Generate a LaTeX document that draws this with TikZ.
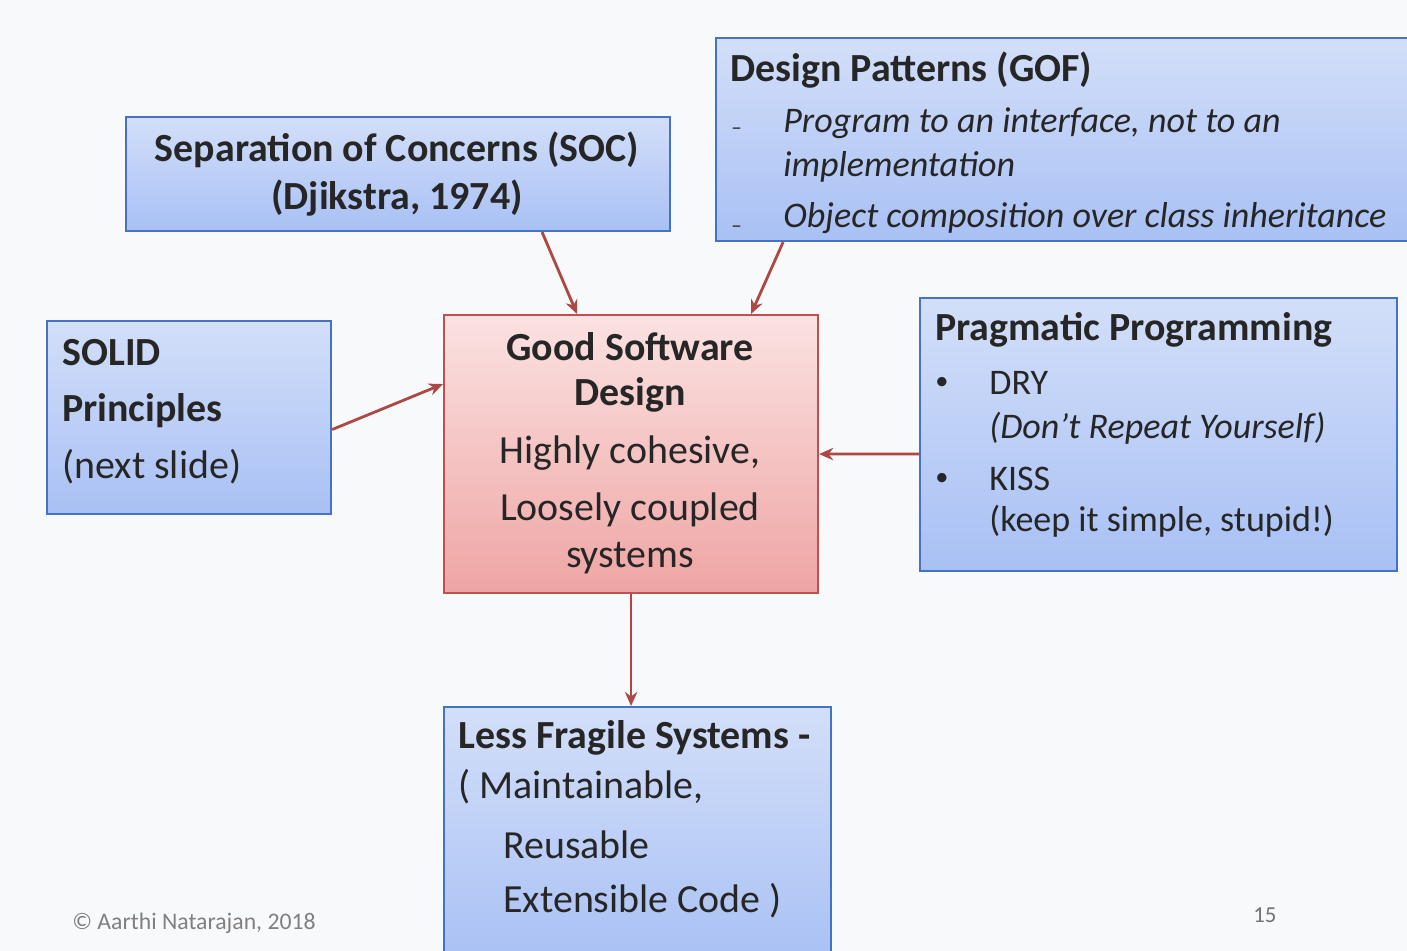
\documentclass[tikz,border=0pt]{standalone}
\usepackage{fontspec}
\setmainfont{Carlito}
\usetikzlibrary{arrows.meta,positioning,calc}
\definecolor{bluebd}{HTML}{4472C4}
\definecolor{bluetop}{HTML}{D3DFF9}
\definecolor{bluebot}{HTML}{A8C0F4}
\definecolor{redbd}{HTML}{C0504D}
\definecolor{redtop}{HTML}{FBE2E2}
\definecolor{redbot}{HTML}{EEA5A4}
\definecolor{txt}{HTML}{262626}
\definecolor{pagebg}{HTML}{F8F9FB}
\tikzset{
  bluebox/.style={draw=bluebd,line width=1.2pt,top color=bluetop,bottom color=bluebot,anchor=north west,inner sep=0pt},
  redbox/.style={draw=redbd,line width=1.2pt,top color=redtop,bottom color=redbot,anchor=north west,inner sep=0pt},
  ln/.style={anchor=west,inner sep=0pt,text=txt,font=\fontsize{20.5}{24}\selectfont},
  big/.style={ln,font=\fontsize{22.7}{26}\selectfont},
  hd/.style={ln,font=\fontsize{22.7}{26}\selectfont\bfseries},
  ctr/.style={big,anchor=center},
  link/.style={draw=redbd!90!black,line width=1.6pt,-{Stealth[length=8pt,width=7pt]}}
}
\begin{document}
\begin{tikzpicture}
\useasboundingbox (0,0) rectangle (28.14,19.02);
\fill[pagebg] (0,0) rectangle (28.14,19.02);
%
\node[bluebox,minimum width=10.88cm,minimum height=2.28cm] (soc) at (2.5,16.7) {};
\node[bluebox,minimum width=13.84cm,minimum height=4.06cm] (gof) at (14.3,18.28) {};
\node[bluebox,minimum width=5.68cm,minimum height=3.86cm] (solid) at (0.92,12.62) {};
\node[redbox,minimum width=7.48cm,minimum height=5.56cm] (good) at (8.86,12.74) {};
\node[bluebox,minimum width=9.54cm,minimum height=5.46cm] (prag) at (18.38,13.08) {};
\node[bluebox,minimum width=7.74cm,minimum height=5.2cm] (fragile) at (8.86,4.9) {};
%
\node[hd,anchor=center] (soc1) at (7.94,16.02) {Separation of Concerns (SOC)};
\node[hd,anchor=center] (soc2) at (7.94,15.06) {(Djikstra, 1974)};
%
\node[hd] (gof1) at (14.6,17.62) {Design Patterns (GOF)};
\node[ln] (gofd1) at (14.62,16.4) {\fontsize{12}{14}\selectfont –};
\node[ln] (gof2) at (15.66,16.56) {\itshape Program to an interface, not to an};
\node[ln] (gof3) at (15.66,15.68) {\itshape implementation};
\node[ln] (gofd2) at (14.62,14.44) {\fontsize{12}{14}\selectfont –};
\node[ln] (gof4) at (15.66,14.66) {\itshape Object composition over class inheritance};
%
\node[hd] (solid1) at (1.24,11.96) {SOLID};
\node[hd] (solid2) at (1.24,10.8) {Principles};
\node[big] (solid3) at (1.24,9.68) {(next slide)};
%
\node[hd,anchor=center] (good1) at (12.6,12.08) {Good Software};
\node[hd,anchor=center] (good2) at (12.6,11.12) {Design};
\node[ctr] (good3) at (12.6,9.96) {Highly cohesive,};
\node[ctr] (good4) at (12.6,8.82) {Loosely coupled};
\node[ctr] (good5) at (12.6,7.86) {systems};
%
\node[hd] (prag1) at (18.7,12.42) {Pragmatic Programming};
\node[ln] (pragb1) at (18.7,11.36) {\fontsize{15}{18}\selectfont •};
\node[ln] (prag2) at (19.78,11.36) {DRY};
\node[ln] (prag3) at (19.78,10.46) {\itshape (Don’t Repeat Yourself)};
\node[ln] (pragb2) at (18.7,9.44) {\fontsize{15}{18}\selectfont •};
\node[ln] (prag4) at (19.78,9.44) {KISS};
\node[ln] (prag5) at (19.78,8.6) {(keep it simple, stupid!)};
%
\node[hd] (frag1) at (9.16,4.26) {Less Fragile Systems -};
\node[big] (frag2) at (9.16,3.28) {( Maintainable,};
\node[big] (frag3) at (10.06,2.12) {Reusable};
\node[big] (frag4) at (10.06,1.0) {Extensible Code )};
%
\node[ln,text=gray,font=\fontsize{13.5}{16}\selectfont] (copy) at (1.44,0.56) {© Aarthi Natarajan, 2018};
\node[ln,text=gray!90!black,font=\fontsize{13}{15}\selectfont] (page) at (25.06,0.72) {15};
%
\draw[link] ([xshift=2.88cm]soc.south) -- ([xshift=-1.08cm]good.north);
\draw[link] ([xshift=-12.52cm]gof.south east) -- ([xshift=2.4cm]good.north);
\draw[link] ([yshift=-0.24cm]solid.east) -- ([yshift=1.4cm]good.west);
\draw[link] ([yshift=-0.39cm]prag.west) -- (good.east);
\draw[link] (good.south) -- (fragile.north -| good.south);
\end{tikzpicture}
\end{document}
